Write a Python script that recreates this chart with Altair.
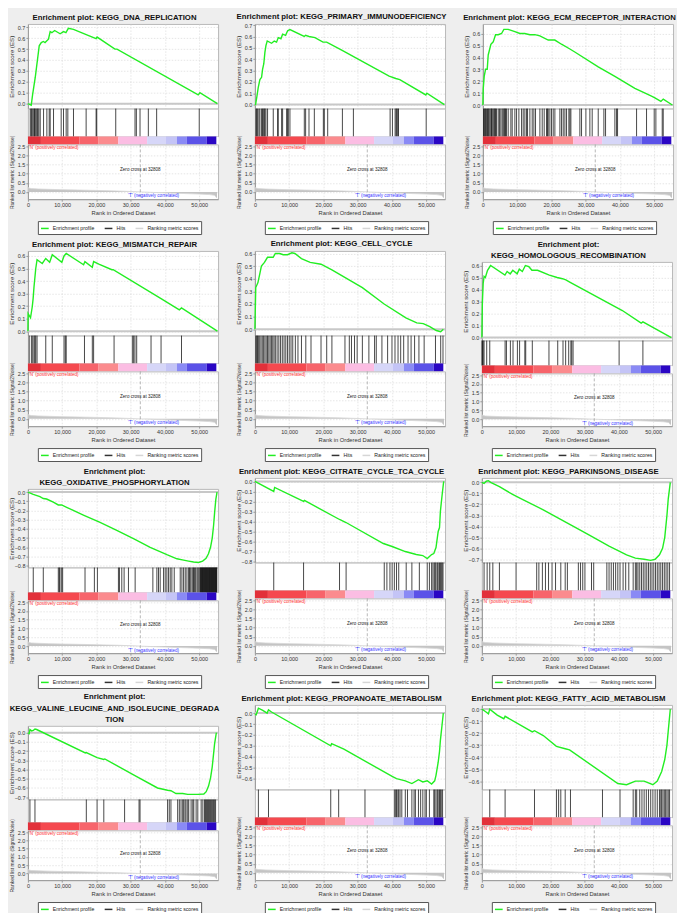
import altair as alt
import pandas as pd

# ---------------- shared values ----------------
X_MAX = 55500
X_TICKS = [0, 10000, 20000, 30000, 40000, 50000]
ZERO_CROSS = 32808
POS7 = [0.0, 0.1, 0.2, 0.3, 0.4, 0.5, 0.6, 0.7]
POS6 = [0.0, 0.1, 0.2, 0.3, 0.4, 0.5, 0.6]
NEG8 = [0.0, -0.1, -0.2, -0.3, -0.4, -0.5, -0.6, -0.7, -0.8]
NEG7 = [0.0, -0.1, -0.2, -0.3, -0.4, -0.5, -0.6, -0.7]
NEG6 = [0.0, -0.1, -0.2, -0.3, -0.4, -0.5, -0.6]
METRIC_TICKS = [0.0, 0.5, 1.0, 1.5, 2.0, 2.5]

# ranked list metric (same dataset for all panels): (rank, value)
METRIC = [(0, 0.25), (300, 0.21), (1000, 0.18), (3000, 0.16), (6000, 0.14), (10000, 0.12),
          (15000, 0.10), (20000, 0.08), (26000, 0.05), (32808, 0.0), (38000, -0.04),
          (44000, -0.08), (50000, -0.12), (53000, -0.15), (54500, -0.19), (55200, -0.35)]

CBAR_EDGES = [0, 3800, 15000, 20500, 26400, 34800, 40300, 43500, 46400, 52200, 55000]
CBAR_COLORS = ["#e2303a", "#f5494f", "#f7646b", "#fb8b8e", "#fbbde3", "#d6d6f8",
               "#c4c4f6", "#8a8af5", "#5b52e8", "#2a06c4"]

LEGEND_ITEMS = ["Enrichment profile", "Hits", "Ranking metric scores"]
LEGEND_COLORS = ["#22ee22", "#333333", "#d6d6d6"]
N_LABEL = "'N' (positively correlated)"
T_LABEL = "'T' (negatively correlated)"
Z_LABEL = "Zero cross at 32808"

# ---------------- per-panel values ----------------
DNA_TITLE = ["Enrichment plot: KEGG_DNA_REPLICATION"]
DNA_CURVE = [(0, 0.0), (970, -0.015), (1360, 0.08), (1750, 0.16), (2140, 0.24), (2500, 0.33),
             (2900, 0.43), (3300, 0.53), (3900, 0.56), (4500, 0.57), (5000, 0.56), (6000, 0.59),
             (6500, 0.66), (7000, 0.65), (7800, 0.67), (9400, 0.64), (10400, 0.66), (11100, 0.65),
             (11800, 0.69), (13300, 0.68), (17200, 0.63), (19900, 0.595), (20200, 0.61),
             (25400, 0.50), (26000, 0.50), (49700, 0.08), (50200, 0.10), (55300, 0.0)]
DNA_HITS = [680, 970, 1165, 1456, 1748, 1942, 2136, 2427, 2719, 2913, 3204, 3593, 4564, 5535,
            6214, 6506, 7477, 9710, 10390, 11167, 11652, 13303, 16993, 19906, 20100, 25634,
            31266, 31655, 32723, 35150, 37578, 50006]

PID_TITLE = ["Enrichment plot: KEGG_PRIMARY_IMMUNODEFICIENCY"]
PID_CURVE = [(0, 0.0), (200, 0.0), (580, 0.07), (970, 0.15), (1460, 0.22), (1950, 0.24),
             (2240, 0.31), (2600, 0.36), (2920, 0.46), (3220, 0.52), (3600, 0.56), (4870, 0.54),
             (5650, 0.56), (6330, 0.55), (6820, 0.59), (7600, 0.58), (8090, 0.62), (8970, 0.61),
             (9550, 0.65), (10230, 0.66), (14400, 0.60), (14800, 0.61), (15800, 0.60),
             (17540, 0.59), (19880, 0.55), (20950, 0.55), (25340, 0.48), (39180, 0.25),
             (41130, 0.23), (42300, 0.22), (49900, 0.085), (50200, 0.10), (55300, 0.0)]
PID_HITS = [290, 490, 780, 1170, 1460, 1950, 2240, 2440, 2730, 2920, 3220, 3700, 5360, 6630,
            6820, 7800, 8090, 9260, 9550, 9750, 10230, 14420, 14810, 15790, 17350, 19980, 20270,
            21250, 25540, 28750, 39470, 40150, 40930, 41230, 41420, 41710, 41910, 50000]

ECM_TITLE = ["Enrichment plot: KEGG_ECM_RECEPTOR_INTERACTION"]
ECM_CURVE = [(0, 0.0), (100, 0.135), (390, 0.24), (780, 0.30), (1270, 0.30), (1560, 0.42),
             (2340, 0.51), (3020, 0.53), (3700, 0.59), (4480, 0.59), (5450, 0.60), (6130, 0.635),
             (7390, 0.635), (9340, 0.615), (10800, 0.60), (12260, 0.60), (13720, 0.59),
             (15180, 0.59), (16640, 0.58), (19070, 0.545), (21000, 0.545), (22940, 0.51),
             (25400, 0.47), (26830, 0.445), (33670, 0.32), (38530, 0.24), (44370, 0.14),
             (49230, 0.075), (50200, 0.06), (51960, 0.03), (52650, 0.05), (55300, 0.0)]
ECM_HITS = [195, 390, 580, 780, 1070, 1360, 1560, 1750, 2040, 2340, 2530, 2720, 3020, 3310,
            3500, 3700, 3990, 4480, 4870, 5250, 5640, 5940, 6230, 6420, 6620, 6910, 7390, 8170,
            8560, 9340, 9830, 10510, 11290, 11770, 12260, 12750, 13040, 13720, 14400, 14890,
            15370, 16640, 17320, 17900, 18580, 18880, 19070, 19560, 20040, 20530, 21020, 22480,
            22960, 23450, 23940, 24420, 25100, 25400, 25690, 28310, 28800, 30070, 31230, 31910,
            33670, 35320, 35810, 38530, 39020, 39310, 44860, 47770, 50010, 50500, 52350, 52640]

MMR_TITLE = ["Enrichment plot: KEGG_MISMATCH_REPAIR"]
MMR_CURVE = [(0, 0.0), (60, 0.14), (760, 0.107), (1270, 0.195), (1520, 0.26), (1780, 0.355),
             (2290, 0.50), (2670, 0.57), (4190, 0.54), (5200, 0.58), (6350, 0.55), (7110, 0.61),
             (9900, 0.55), (10540, 0.60), (11180, 0.62), (16260, 0.53), (16640, 0.555),
             (18800, 0.51), (19180, 0.555), (20700, 0.535), (24510, 0.49), (24900, 0.49),
             (38860, 0.26), (44200, 0.17), (44830, 0.185), (55300, 0.0)]
MMR_HITS = [380, 1020, 1400, 1780, 2030, 2290, 2670, 5210, 7110, 10540, 10920, 11180, 16510,
            18800, 19180, 25150, 30480, 30860, 31240, 31750, 35940, 38860, 44830]

CC_TITLE = ["Enrichment plot: KEGG_CELL_CYCLE"]
CC_CURVE = [(0, 0.0), (250, 0.33), (890, 0.37), (1520, 0.45), (1900, 0.50), (2790, 0.53),
            (3680, 0.57), (5330, 0.57), (5970, 0.60), (7240, 0.60), (8260, 0.59), (9520, 0.59),
            (10800, 0.605), (11680, 0.60), (13590, 0.56), (16130, 0.53), (19300, 0.515),
            (22480, 0.47), (31370, 0.33), (37720, 0.20), (44070, 0.09), (47240, 0.05),
            (49150, 0.045), (51050, 0.02), (52960, -0.01), (54230, -0.02), (55000, 0.0)]
CC_HITS = [250, 510, 760, 1020, 1400, 1780, 2160, 2540, 2920, 3300, 3680, 4060, 4450, 4830,
           5210, 5590, 5970, 6480, 6990, 7490, 8000, 8510, 9020, 9530, 10030, 10540, 11050,
           11810, 12570, 13590, 14860, 16380, 19300, 20960, 22480, 26290, 27560, 28190, 29080,
           29850, 31370, 33270, 34930, 35430, 37080, 38740, 40010, 40890, 41780, 42550, 43430,
           44700, 45590, 46610, 47880, 49400, 52710, 54230, 54900]

HR_TITLE = ["Enrichment plot:", "KEGG_HOMOLOGOUS_RECOMBINATION"]
HR_CURVE = [(0, 0.0), (130, 0.28), (380, 0.45), (640, 0.51), (1020, 0.50), (1650, 0.56),
            (2540, 0.60), (6730, 0.52), (7370, 0.55), (8260, 0.53), (9020, 0.56), (10290, 0.53),
            (10920, 0.57), (11810, 0.55), (12700, 0.60), (13720, 0.59), (14600, 0.56),
            (16260, 0.56), (19690, 0.52), (21970, 0.50), (23500, 0.49), (24510, 0.48),
            (25780, 0.46), (41000, 0.225), (46500, 0.12), (47000, 0.13), (55300, 0.0)]
HR_HITS = [50, 130, 380, 640, 1410, 2300, 6780, 7170, 8320, 9090, 10370, 11010, 12540, 12800,
           14720, 19580, 22140, 23680, 24450, 25340, 25980, 26240, 26620, 40060, 47000]

OX_TITLE = ["Enrichment plot:", "KEGG_OXIDATIVE_PHOSPHORYLATION"]
OX_CURVE = [(0, 0.0), (1560, -0.025), (3510, -0.05), (4490, -0.07), (5460, -0.075),
            (7410, -0.11), (8870, -0.14), (9850, -0.14), (11310, -0.165), (16190, -0.25),
            (21060, -0.33), (25940, -0.415), (30810, -0.505), (35690, -0.60), (40560, -0.68),
            (43490, -0.725), (45440, -0.74), (46900, -0.75), (48360, -0.76), (49820, -0.765),
            (51000, -0.75), (52000, -0.72), (52700, -0.67), (53300, -0.60), (53800, -0.50),
            (54200, -0.36), (54500, -0.22), (54850, -0.08), (55200, 0.0)]
OX_HITS = [1560, 4490, 8870, 9170, 9360, 9850, 10140, 16670, 19400, 20280, 26420, 26720, 27400,
           28080, 29350, 31300, 36470, 37640, 38120, 38610, 39590, 40070, 40560, 41050, 41540,
           42020, 42710, 44460, 44950, 45440, 45920, 46410, 46900, 47190, 47390, 47870, 48170,
           48360, 48650, 48950, 49340, 49630, 49920, 50210, 50350, 50510, 50650, 50800, 50950,
           51090, 51230, 51380, 51530, 51680, 51820, 51970, 52110, 52260, 52400, 52550, 52700,
           52850, 53000, 53140, 53280, 53430, 53580, 53720, 53870, 54020, 54160, 54310, 54450,
           54600, 54750, 54900, 55020, 55150]

TCA_TITLE = ["Enrichment plot: KEGG_CITRATE_CYCLE_TCA_CYCLE"]
TCA_CURVE = [(0, 0.0), (5500, -0.10), (5760, -0.06), (14200, -0.20), (14460, -0.19),
             (24700, -0.38), (26600, -0.41), (37500, -0.62), (40060, -0.65), (43900, -0.70),
             (47100, -0.73), (49000, -0.74), (50300, -0.77), (51580, -0.73), (52220, -0.72),
             (52860, -0.66), (53500, -0.50), (53890, -0.46), (54140, -0.30), (54600, -0.15),
             (55100, 0.0)]
TCA_HITS = [5500, 14210, 24700, 26620, 37760, 38530, 39420, 40060, 40700, 41340, 41980, 44160,
            45820, 48000, 50300, 50940, 51580, 51970, 52350, 52610, 52860, 53250, 53500, 53890,
            54140, 54400, 54660, 54910]

PD_TITLE = ["Enrichment plot: KEGG_PARKINSONS_DISEASE"]
PD_CURVE = [(0, 0.0), (640, -0.01), (1280, 0.01), (1920, 0.015), (2560, 0.0), (5120, -0.04),
            (8960, -0.11), (11520, -0.15), (17920, -0.25), (24320, -0.36), (30720, -0.47),
            (37120, -0.58), (42240, -0.66), (44800, -0.69), (47360, -0.70), (49280, -0.71),
            (50560, -0.70), (51840, -0.66), (52740, -0.60), (53380, -0.50), (54020, -0.30),
            (54400, -0.15), (55000, 0.0)]
PD_HITS = [640, 1540, 2300, 3200, 5120, 9980, 16000, 16640, 17660, 18560, 19460, 20480, 21500,
           23040, 24320, 24960, 28160, 28800, 29440, 30080, 32000, 32640, 36480, 37120, 37760,
           38400, 39040, 39680, 40320, 41220, 41980, 42880, 44160, 44800, 45180, 45570, 46080,
           46590, 47100, 47620, 48130, 48640, 49150, 49660, 50180, 50690, 51200, 51710, 52220,
           52740, 53250, 53760, 54270, 54780]

VAL_TITLE = ["Enrichment plot:", "KEGG_VALINE_LEUCINE_AND_ISOLEUCINE_DEGRADA", "TION"]
VAL_CURVE = [(0, 0.0), (390, -0.01), (590, 0.035), (1080, 0.02), (1570, 0.025), (2060, 0.04),
             (2550, 0.035), (16760, -0.22), (17050, -0.215), (20190, -0.27), (22150, -0.29),
             (22450, -0.285), (30970, -0.46), (37830, -0.60), (40770, -0.625), (41750, -0.63),
             (43220, -0.66), (45180, -0.66), (46650, -0.67), (49590, -0.67), (51350, -0.665),
             (52040, -0.64), (52720, -0.58), (53310, -0.49), (53800, -0.37), (54190, -0.23),
             (54490, -0.12), (55000, 0.0)]
VAL_HITS = [590, 2060, 17050, 20190, 22150, 28220, 32440, 32730, 40770, 41260, 41750, 43710,
            44200, 44690, 45180, 45470, 45860, 46160, 46650, 46940, 47630, 48120, 48410, 49100,
            49590, 50570, 51060, 51550, 51840, 52140, 52430, 52720, 53020, 53310, 53610, 53910,
            54190, 54490, 54780]

PROP_TITLE = ["Enrichment plot: KEGG_PROPANOATE_METABOLISM"]
PROP_CURVE = [(0, -0.01), (380, -0.015), (1020, 0.045), (2300, 0.025), (3580, 0.0),
              (3970, 0.03), (4860, 0.01), (22140, -0.30), (22400, -0.28), (25980, -0.33),
              (40060, -0.58), (41340, -0.60), (43900, -0.62), (45820, -0.645), (47740, -0.61),
              (49020, -0.63), (50300, -0.62), (51580, -0.65), (52480, -0.62), (52860, -0.57),
              (53500, -0.45), (53890, -0.35), (54140, -0.25), (54660, -0.10), (55000, 0.0)]
PROP_HITS = [1020, 3970, 22140, 24450, 32130, 40700, 41090, 41340, 41730, 41980, 42370, 42880,
             43900, 44540, 45820, 46460, 46850, 47740, 48380, 49020, 49660, 50050, 50940, 52220,
             52480, 52860, 53250, 53500, 53890, 54140, 54400, 54780]

FA_TITLE = ["Enrichment plot: KEGG_FATTY_ACID_METABOLISM"]
FA_CURVE = [(0, 0.0), (1020, -0.02), (1920, -0.04), (2300, 0.0), (4480, -0.05), (6400, -0.08),
            (6780, -0.06), (14720, -0.19), (15360, -0.18), (17920, -0.22), (21760, -0.31),
            (24320, -0.33), (25600, -0.34), (39680, -0.62), (42240, -0.63), (44800, -0.60),
            (47360, -0.60), (49920, -0.63), (51200, -0.60), (52480, -0.52), (53380, -0.42),
            (54020, -0.30), (54400, -0.18), (55000, 0.0)]
FA_HITS = [2300, 6780, 15360, 21760, 22400, 23040, 24320, 25860, 35200, 40320, 44160, 44800,
           45180, 46080, 46720, 47360, 48000, 48640, 49280, 49920, 50560, 51200, 51840, 52220,
           52480, 52860, 53250, 53630, 54020, 54400, 54780]

# panel table: title, curve, hits, y-domain, y-ticks
PANELS = [
    [DNA_TITLE, DNA_CURVE, DNA_HITS, [-0.045, 0.73], POS7],
    [PID_TITLE, PID_CURVE, PID_HITS, [-0.035, 0.71], POS7],
    [ECM_TITLE, ECM_CURVE, ECM_HITS, [-0.03, 0.68], POS6],
    [MMR_TITLE, MMR_CURVE, MMR_HITS, [-0.035, 0.64], POS6],
    [CC_TITLE, CC_CURVE, CC_HITS, [-0.05, 0.62], POS6],
    [HR_TITLE, HR_CURVE, HR_HITS, [-0.025, 0.63], POS6],
    [OX_TITLE, OX_CURVE, OX_HITS, [-0.82, 0.035], NEG8],
    [TCA_TITLE, TCA_CURVE, TCA_HITS, [-0.81, 0.035], NEG8],
    [PD_TITLE, PD_CURVE, PD_HITS, [-0.73, 0.04], NEG7],
    [VAL_TITLE, VAL_CURVE, VAL_HITS, [-0.725, 0.075], NEG7],
    [PROP_TITLE, PROP_CURVE, PROP_HITS, [-0.70, 0.075], NEG6],
    [FA_TITLE, FA_CURVE, FA_HITS, [-0.67, 0.035], NEG6],
]

# ---------------- layout sizes ----------------
W = 191
SPACER_W = 194
# heights by number of title lines: spacer, ES, hits, colorbar, metric
HEIGHTS = {1: (13, 85, 28, 8, 55), 2: (24, 79, 25, 8, 53), 3: (34, 74, 23, 8, 50)}
FONT = "Liberation Sans"
XSCALE = alt.Scale(domain=[0, X_MAX], nice=False, zero=False)
Y_EXTENT = 11
TICK_COUNT = 20


def make_panel(title, curve, hits, ydom, yticks):
    n = len(title)
    h_sp, h_es, h_hits, h_cb, h_m = HEIGHTS[n]

    spacer = alt.Chart(pd.DataFrame({"s": [0]})).mark_point(opacity=0).encode(
        x=alt.X("s:Q", axis=None), y=alt.Y("s:Q", axis=None)
    ).properties(width=SPACER_W, height=h_sp,
                 view=alt.ViewBackground(stroke="transparent", fill="transparent"))

    es_df = pd.DataFrame(curve, columns=["rank", "es"])
    zero = alt.Chart(pd.DataFrame({"z": [0.0]})).mark_rule(color="#c8c8c8", strokeWidth=2).encode(
        y=alt.Y("z:Q"))
    line = alt.Chart(es_df).mark_line(color="#22ee22", strokeWidth=1.4).encode(
        x=alt.X("rank:Q", scale=XSCALE,
                axis=alt.Axis(values=X_TICKS, tickCount=TICK_COUNT, labels=False, ticks=False,
                              domain=False, title=None, grid=True)),
        y=alt.Y("es:Q", scale=alt.Scale(domain=ydom, nice=False, zero=False),
                axis=alt.Axis(values=yticks, tickCount=TICK_COUNT, format=".1f",
                              title="Enrichment score (ES)",
                              grid=True, minExtent=Y_EXTENT, maxExtent=Y_EXTENT,
                              labelOverlap=False, labelFlush=False, labelBound=False)),
    )
    es = alt.layer(zero, line).properties(
        width=W, height=h_es,
        title=alt.TitleParams(text=title, fontSize=7.8, font=FONT, fontWeight="bold",
                              color="#111111", anchor="middle", offset=2, dx=-8.5,
                              lineHeight=11.5))

    hits_c = alt.Chart(pd.DataFrame({"rank": hits})).mark_rule(
        color="#000000", strokeWidth=0.9, opacity=0.8).encode(
        x=alt.X("rank:Q", scale=XSCALE, axis=None)
    ).properties(width=W, height=h_hits)

    cb_df = pd.DataFrame({"start": CBAR_EDGES[:-1], "end": CBAR_EDGES[1:],
                          "seg": list(range(len(CBAR_COLORS)))})
    cbar = alt.Chart(cb_df).mark_rect().encode(
        x=alt.X("start:Q", scale=XSCALE, axis=None),
        x2="end:Q",
        color=alt.Color("seg:O", scale=alt.Scale(domain=list(range(len(CBAR_COLORS))),
                                                 range=CBAR_COLORS), legend=None),
    ).properties(width=W, height=h_cb, view=alt.ViewBackground(stroke="transparent", fill="white"))

    m_df = pd.DataFrame(METRIC, columns=["rank", "val"])
    m_df["series"] = LEGEND_ITEMS[2]
    mx = alt.X("rank:Q", scale=XSCALE,
               axis=alt.Axis(values=X_TICKS, tickCount=TICK_COUNT, format=",d",
                             title="Rank in Ordered Dataset",
                             titleFontSize=5.8, grid=True, labelOverlap=False,
                             labelFlush=False, labelBound=False))
    my = alt.Y("val:Q", scale=alt.Scale(domain=[-0.4, 2.6], nice=False, zero=False),
               axis=alt.Axis(values=METRIC_TICKS, tickCount=TICK_COUNT, format=".1f",
                             title="Ranked list metric (Signal2Noise)", titleFontSize=5.0,
                             grid=True, minExtent=Y_EXTENT, maxExtent=Y_EXTENT,
                             labelOverlap=False, labelFlush=False, labelBound=False))
    area = alt.Chart(m_df).mark_area(color="#c4c4c4").encode(x=mx, y=my, y2=alt.datum(0))
    mline = alt.Chart(m_df).mark_line(strokeWidth=0.8).encode(
        x="rank:Q", y="val:Q",
        color=alt.Color("series:N",
                        scale=alt.Scale(domain=LEGEND_ITEMS, range=LEGEND_COLORS),
                        legend=alt.Legend(orient="none", legendX=10, legendY=h_m + 22,
                                          direction="horizontal", title=None,
                                          symbolType="stroke", symbolSize=60,
                                          symbolStrokeWidth=1.5, labelFontSize=5.2,
                                          labelFont=FONT, labelColor="#222222",
                                          strokeColor="#555555", fillColor="white",
                                          padding=2, columnPadding=7, labelOffset=3)),
    )
    zc = alt.Chart(pd.DataFrame({"zc": [ZERO_CROSS]})).mark_rule(
        color="#999999", strokeDash=[3, 2], strokeWidth=0.7).encode(x="zc:Q")
    n_txt = alt.Chart(pd.DataFrame({"t": [N_LABEL]})).mark_text(
        align="left", baseline="top", fontSize=4.6, color="#ff3333", dx=1, dy=1, font=FONT
    ).encode(x=alt.datum(0), y=alt.datum(2.6), text="t:N")
    z_txt = alt.Chart(pd.DataFrame({"t": [Z_LABEL]})).mark_text(
        align="center", baseline="middle", fontSize=4.6, color="#222222", font=FONT
    ).encode(x=alt.datum(ZERO_CROSS), y=alt.datum(1.2), text="t:N")
    t_txt = alt.Chart(pd.DataFrame({"t": [T_LABEL]})).mark_text(
        align="center", baseline="middle", fontSize=4.6, color="#3333ff", font=FONT
    ).encode(x=alt.datum(36700), y=alt.datum(-0.25), text="t:N")
    metric = alt.layer(area, mline, zc, n_txt, z_txt, t_txt).properties(width=W, height=h_m)

    return alt.vconcat(spacer, es, hits_c, cbar, metric, spacing=0, bounds="flush").resolve_scale(
        color="independent")


rows = []
for r in range(4):
    panels = [make_panel(*PANELS[r * 3 + c]) for c in range(3)]
    rows.append(alt.hconcat(*panels, spacing=13).resolve_scale(color="independent"))

chart = alt.vconcat(*rows, spacing=2).resolve_scale(
    color="independent"
).properties(
    padding={"left": 0, "top": 0, "right": 0, "bottom": 0}
).configure(
    background="#eeeeee", font=FONT
).configure_view(
    stroke="#b8b8b8", fill="white"
).configure_axis(
    labelFont=FONT, titleFont=FONT, labelFontSize=5.5, titleFontSize=6.2,
    titleFontWeight="normal", labelColor="#333333", titleColor="#333333",
    domainColor="#999999", tickColor="#999999", tickSize=2, labelPadding=1,
    titlePadding=2, gridColor="#d4d4d4", gridDash=[1.5, 1.5], gridWidth=0.6,
    labelOverlap=False
)

chart.save("out.html", embed_options={"renderer": "svg", "actions": False})
